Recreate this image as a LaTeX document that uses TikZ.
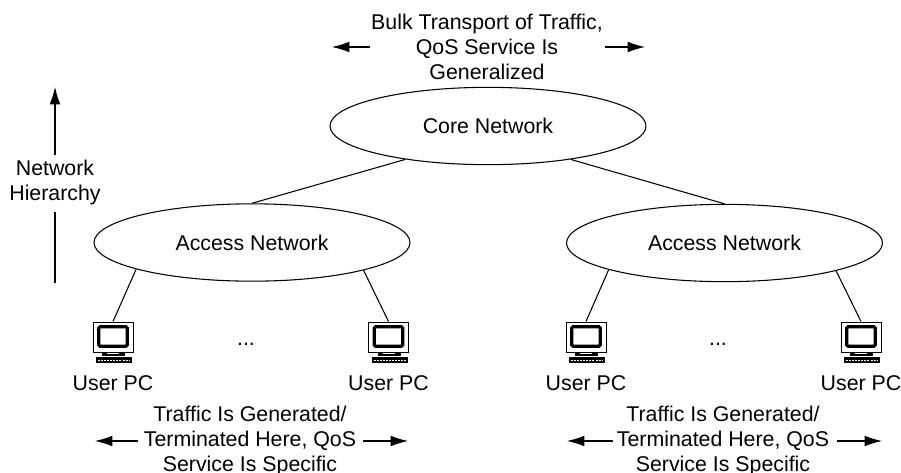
\documentclass[tikz,border=0pt]{standalone}
\usepackage{fontspec}
\setmainfont{Liberation Sans}
\usetikzlibrary{shapes.geometric, arrows.meta}
\tikzset{
  netcloud/.style={draw=black, ellipse, line width=0.8pt, inner sep=0pt, minimum width=237pt, minimum height=58pt, font=\fontsize{16}{18.75}\selectfont},
  lbl/.style={align=center, inner sep=0pt, font=\fontsize{16}{18.75}\selectfont},
  link/.style={draw=black, line width=0.8pt},
  flow/.style={draw=black, line width=0.8pt, -{Latex[length=13pt, width=8pt]}},
  pcbody/.style={draw=black, fill=white, line width=0.7pt, inner sep=0pt, minimum width=30pt, minimum height=22.5pt},
  pcscreen/.style={draw=black, fill=white, line width=2.4pt, rounded corners=1pt, inner sep=0pt, minimum width=21.5pt, minimum height=14.5pt},
}
\newcommand{\userpc}[2]{
  \node[pcbody] (#1) at (#2, 337) {};
  \node[pcscreen] (#1scr) at (#2, 336.5) {};
  \fill[black] (#2-11, 352) rectangle (#2+12, 356);
  \fill[white] (#2-6, 353) rectangle (#2+6, 354);
  \fill[black] (#2-17, 356.5) rectangle (#2+19, 362.5);
  \draw[white, line width=0.7pt, dash pattern=on 1.5pt off 0.8pt] (#2-15, 360) -- (#2+17, 360);
  \node[lbl] (#1txt) at (#2, 383) {User PC};
}

\begin{document}
\begin{tikzpicture}[x=0.75pt, y=-0.75pt]
  \useasboundingbox (0, 0) rectangle (901, 472);

  % Networks
  \node[netcloud] (core) at (488, 126) {Core Network};
  \node[netcloud] (accessL) at (252, 242.5) {Access Network};
  \node[netcloud] (accessR) at (724.5, 243) {Access Network};

  % User PCs
  \userpc{pcA}{113}
  \userpc{pcB}{388.5}
  \userpc{pcC}{586}
  \userpc{pcD}{861}
  \node[lbl] (dotsL) at (246, 344) {...};
  \node[lbl] (dotsR) at (718, 344) {...};

  % Links
  \draw[link] (core.202) -- (accessL.north);
  \draw[link] (core.338) -- (accessR.north);
  \draw[link] (accessL.193.4) -- (pcA.north);
  \draw[link] (accessL.346.6) -- (pcB.north);
  \draw[link] (accessR.193.4) -- (pcC.north);
  \draw[link] (accessR.346.6) -- (pcD.north);

  % Labels
  \node[lbl] (bulk) at (487, 47) {Bulk Transport of Traffic,\\QoS Service Is\\Generalized};
  \node[lbl] (hier) at (55, 182.5) {Network\\Hierarchy};
  \node[lbl] (trafL) at (250, 441) {Traffic Is Generated/\\Terminated Here, QoS\\Service Is Specific};
  \node[lbl] (trafR) at (723, 441) {Traffic Is Generated/\\Terminated Here, QoS\\Service Is Specific};

  % Arrow ends
  \coordinate (bulkLa) at (370, 47);
  \coordinate (bulkLb) at (332, 47);
  \coordinate (bulkRa) at (605, 47);
  \coordinate (bulkRb) at (645, 47);
  \coordinate (hierUa) at (55, 155);
  \coordinate (hierUb) at (55, 87);
  \coordinate (hierDa) at (55, 283);
  \coordinate (hierDb) at (55, 212);
  \coordinate (trafLa) at (138, 441);
  \coordinate (trafLb) at (95, 441);
  \coordinate (trafLc) at (363, 441);
  \coordinate (trafLd) at (408, 441);
  \coordinate (trafRa) at (613, 441);
  \coordinate (trafRb) at (567, 441);
  \coordinate (trafRc) at (837, 441);
  \coordinate (trafRd) at (882, 441);

  % Arrows
  \draw[flow] (bulkLa) -- (bulkLb);
  \draw[flow] (bulkRa) -- (bulkRb);
  \draw[flow] (hierUa) -- (hierUb);
  \draw[link] (hierDa) -- (hierDb);
  \draw[flow] (trafLa) -- (trafLb);
  \draw[flow] (trafLc) -- (trafLd);
  \draw[flow] (trafRa) -- (trafRb);
  \draw[flow] (trafRc) -- (trafRd);
\end{tikzpicture}
\end{document}
